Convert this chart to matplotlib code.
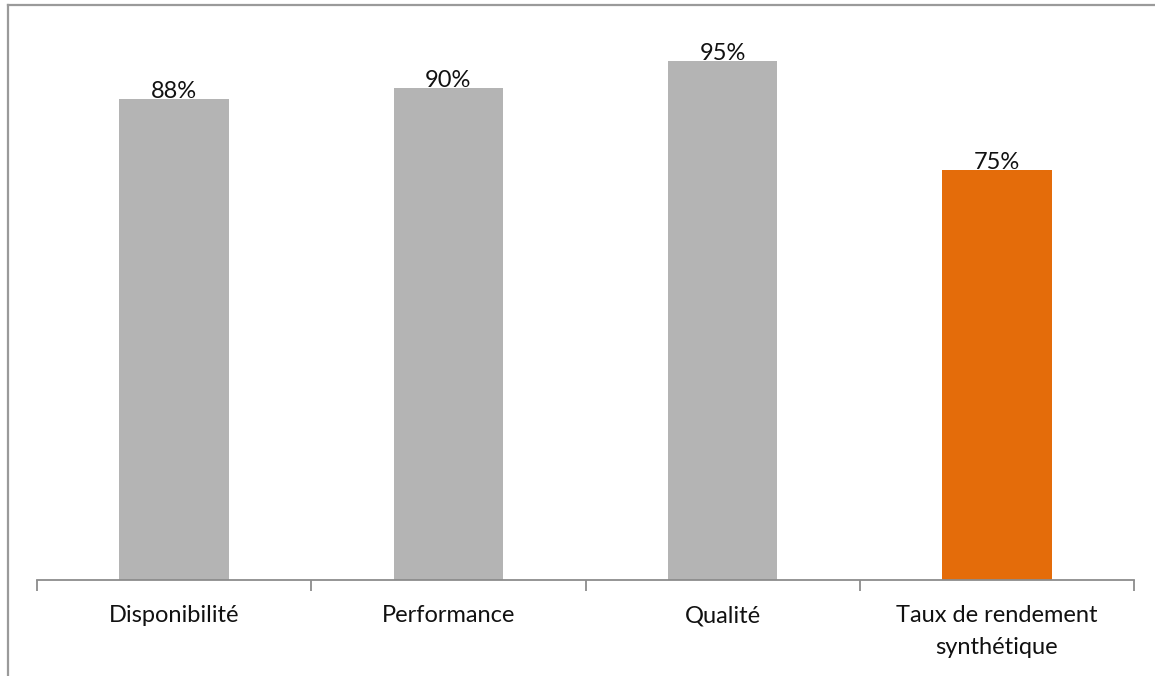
"""
Bar chart of TRS (taux de rendement synthetique) components
"""

import matplotlib
matplotlib.use('Agg')
from matplotlib import pyplot as plt
from matplotlib.lines import Line2D


# data
categories = ['Disponibilité', 'Performance', 'Qualité', 'Taux de rendement\nsynthétique']
values = [0.88, 0.90, 0.95, 0.75]
value_labels = ['88%', '90%', '95%', '75%']


def draw_chart():
    """Build the figure and save it to out.png"""
    # constants
    clr_grey = '#B4B4B4'
    clr_orange = '#E46C0A'
    clr_axis = '#8C8C8C'
    clr_border = '#9A9A9A'
    plt.rcParams['font.family'] = ['Lato', 'DejaVu Sans']

    fig = plt.figure(figsize=(11.55, 6.76), dpi=100)
    ax = fig.add_axes([37 / 1155, 1 - 580 / 676, 1097 / 1155, 546.6 / 676])

    colors = [clr_grey] * (len(values) - 1) + [clr_orange]
    xs = list(range(len(categories)))
    ax.bar(xs, values, width=0.4, color=colors)

    # labels sit right on the bar top, baseline touching it
    for x, v, lbl in zip(xs, values, value_labels):
        ax.annotate(lbl, (x, v), xytext=(0, 0.5), textcoords='offset points',
                    ha='center', va='baseline', fontsize=17, color='#111111')

    ax.set_xlim(-0.5, len(categories) - 0.5)
    ax.set_ylim(0, 1)

    # category labels at centers, boundary ticks as minor ticks
    ax.set_xticks(xs)
    ax.set_xticklabels(categories, fontsize=17, color='#111111', linespacing=1.65)
    ax.tick_params(axis='x', which='major', length=0, pad=18)
    ax.set_xticks([x - 0.5 for x in xs] + [len(xs) - 0.5], minor=True)
    ax.tick_params(axis='x', which='minor', length=8, width=1.3, color=clr_axis, direction='out')

    ax.set_yticks([])
    for side in ['left', 'right', 'top']:
        ax.spines[side].set_visible(False)
    ax.spines['bottom'].set_color(clr_axis)
    ax.spines['bottom'].set_linewidth(1.3)

    # chart frame (right and bottom edges are cut off in the original)
    fig.add_artist(Line2D([7.5 / 1155, 1], [1 - 4.5 / 676] * 2, color=clr_border, linewidth=1.6))
    fig.add_artist(Line2D([7.5 / 1155] * 2, [0, 1 - 4.5 / 676], color=clr_border, linewidth=1.6))

    fig.savefig('out.png', dpi=100)


if __name__ == '__main__':
    draw_chart()
